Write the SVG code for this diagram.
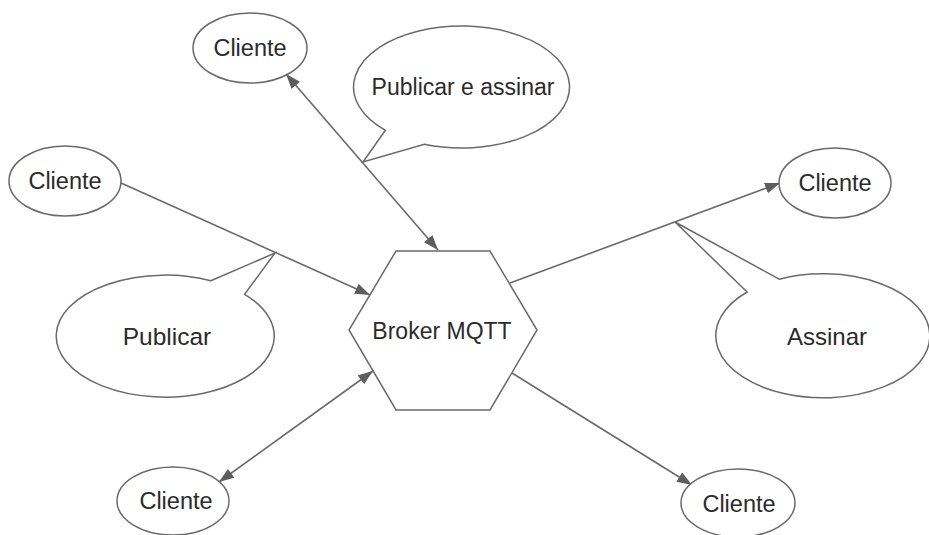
<svg xmlns="http://www.w3.org/2000/svg" width="929" height="535" viewBox="0 0 929 535">
<style>
.shape{fill:#ffffff;stroke:#6a6a6a;stroke-width:1.5}
.lbl{font-family:"Liberation Sans",Arial,sans-serif;font-size:23.5px;fill:#2b2b2b;text-anchor:middle}
.conn{stroke:#6a6a6a;stroke-width:1.6;fill:none}
</style>
<defs>
<marker id="arr" viewBox="0 0 15 11" refX="15" refY="5.5" markerWidth="15" markerHeight="11" markerUnits="userSpaceOnUse" orient="auto-start-reverse">
<path d="M0,0 L15,5.5 L0,11 z" fill="#5e5e5e"/>
</marker>
</defs>
<rect width="929" height="535" fill="#ffffff"/>
<g id="connectors">
<line class="conn" x1="286" y1="74" x2="438" y2="250" marker-start="url(#arr)" marker-end="url(#arr)"/>
<line class="conn" x1="121" y1="183" x2="370" y2="295" marker-end="url(#arr)"/>
<line class="conn" x1="219" y1="482" x2="373" y2="371" marker-start="url(#arr)" marker-end="url(#arr)"/>
<line class="conn" x1="510" y1="283" x2="780" y2="183" marker-end="url(#arr)"/>
<line class="conn" x1="512" y1="373" x2="692" y2="485" marker-end="url(#arr)"/>
</g>
<g id="broker">
<polygon class="shape" points="396,251 490,251 537,330 490,410 396,410 349,330"/>
<text class="lbl" x="442" y="339" style="font-size:23px">Broker MQTT</text>
</g>
<g id="cliente-top">
<ellipse class="shape" cx="250" cy="48" rx="57" ry="35"/>
<text class="lbl" x="250" y="56">Cliente</text>
</g>
<g id="cliente-left">
<ellipse class="shape" cx="65" cy="181" rx="56" ry="35"/>
<text class="lbl" x="65" y="189">Cliente</text>
</g>
<g id="cliente-right">
<ellipse class="shape" cx="835" cy="183" rx="56" ry="35"/>
<text class="lbl" x="835" y="191">Cliente</text>
</g>
<g id="cliente-bottom-left">
<ellipse class="shape" cx="173" cy="501" rx="56" ry="34"/>
<text class="lbl" x="176" y="509">Cliente</text>
</g>
<g id="cliente-bottom-right">
<ellipse class="shape" cx="738" cy="503" rx="57" ry="34"/>
<text class="lbl" x="739" y="512">Cliente</text>
</g>
<g id="bubble-publicar-assinar">
<path class="shape" d="M385.4,130.3 L363,162 L424.3,144.3 A108 61 0 1 0 385.4,130.3 Z"/>
<text class="lbl" x="463" y="95" style="font-size:23px">Publicar e assinar</text>
</g>
<g id="bubble-publicar">
<path class="shape" d="M210.8,280.7 L275,253 L244.6,294.3 A109 61 0 1 1 210.8,280.7 Z"/>
<text class="lbl" x="167" y="345" style="font-size:24.5px">Publicar</text>
</g>
<g id="bubble-assinar">
<path class="shape" d="M747.1,292 L675,222 L779.2,279.2 A107 62 0 1 1 747.1,292 Z"/>
<text class="lbl" x="827" y="345" style="font-size:24px">Assinar</text>
</g>
</svg>
